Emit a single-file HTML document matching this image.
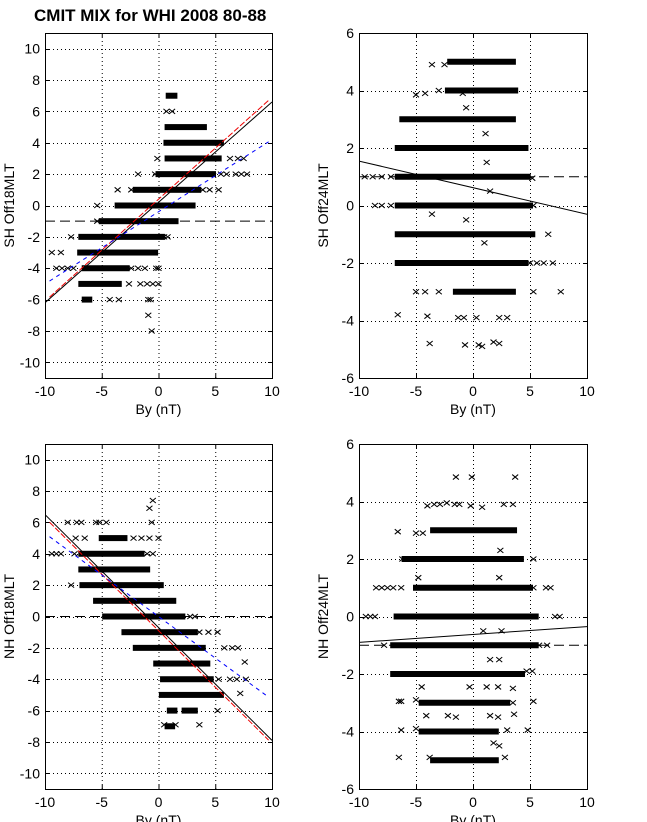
<!DOCTYPE html>
<html><head><meta charset="utf-8">
<style>
html,body{margin:0;padding:0;background:#fff;}
svg{display:block;font-family:"Liberation Sans",Arial,sans-serif;}
</style></head>
<body>
<svg id="fig" width="647" height="822" viewBox="0 0 647 822" xmlns="http://www.w3.org/2000/svg">
<rect width="647" height="822" fill="#fff"/>
<text x="34" y="21" font-size="17" font-weight="bold">CMIT MIX for WHI 2008 80-88</text>
</svg>
<script>
// ---- data ----
const xTicks = [-10, -5, 0, 5, 10];
const yTicksWide = [-10, -8, -6, -4, -2, 0, 2, 4, 6, 8, 10];
const yTicksNarrow = [-6, -4, -2, 0, 2, 4, 6];

// panel 1: SH Off18MLT  bands [y, x0, x1]
const shOff18Bands = [[7,0.9,1.4],[5,0.8,4.0],[4,0.7,5.5],[3,0.8,5.3],[2,0,4.8],[1,-2,3.5],[0,-3.6,3],[-1,-5,1.5],[-2,-6.8,0.3],[-3,-6.9,-0.3],[-4,-6.5,-2.8],[-5,-6.8,-3.5],[-6,-6.5,-6.1]];
const shOff18Points = [[0.7,6],[1.2,6],[-0.1,3],[6.3,3],[7,3],[7.5,3],[-1.8,2],[-0.3,2],[5.5,2],[6,2],[6.8,2],[7.3,2],[7.8,2],[-3.6,1],[-2.4,1],[3.9,1],[4.5,1],[5.3,1],[-5.4,0],[-5.4,-1],[-7.7,-2],[0.5,-2],[0.8,-2],[-9.4,-3],[-8.6,-3],[-9,-4],[-8.5,-4],[-8,-4],[-7.5,-4],[-2.4,-4],[-1.8,-4],[-1.2,-4],[-0.2,-4],[0,-4],[-2.6,-5],[-1.6,-5],[-1,-5],[-0.5,-5],[0,-5],[-4.3,-6],[-3.5,-6],[-0.9,-6],[-0.7,-6],[-0.9,-7],[-0.6,-8]];
const shOff18Fits = {black:[0.64,0.2], red:[0.65,0.4], blue:[0.46,-0.4]};
const shOff18Mean = -1;

// panel 2: SH Off24MLT
const shOff24Bands = [[5,-2,3.5],[4,-2.2,3.7],[3,-6.2,3.5],[2,-6.6,4.6],[1,-6.6,4.8],[0,-6.6,5],[-1,-6.6,5.2],[-2,-6.6,4.6],[-3,-1.5,3.5]];
const shOff24Points = [[-3.6,4.9],[-2.5,4.9],[-5,3.85],[-4.2,3.9],[-3,4],[-0.9,3.9],[-0.6,3.4],[1.1,2.5],[1.2,1.5],[1.5,0.5],[-9.5,1],[-8.8,1],[-8,1],[-7.2,1],[5.2,0.95],[-8.6,0],[-8,0],[-7.2,0],[5.3,0],[-3.6,-0.3],[-0.6,-0.5],[1,-1.3],[6.6,-1],[5,-2],[5.6,-2],[6.2,-2],[7,-2],[-5,-3],[-4.2,-3],[-3,-3],[5.3,-3],[7.7,-3],[-6.6,-3.8],[-4,-3.85],[-1.3,-3.9],[-0.8,-3.9],[0.3,-3.9],[2.3,-3.9],[3,-3.9],[-3.8,-4.8],[-0.7,-4.85],[0.5,-4.85],[0.8,-4.9],[1.8,-4.75],[2.3,-4.8]];
const shOff24Fits = {black:[-0.0925,0.62]};
const shOff24Mean = 1;

// panel 3: NH Off18MLT
const nhOff18Bands = [[5,-5,-3],[4,-6.8,-1.5],[3,-6.8,-1],[2,-6.7,0.2],[1,-5.5,1.3],[0,-4.7,2.1],[-1,-3,3.2],[-2,-2,3.9],[-3,-0.2,4.3],[-4,0.4,4.6],[-5,0.3,5.5],[-6,1,1.4],[-6,2.3,3.2],[-7,0.8,1.2]];
const nhOff18Points = [[-0.8,6.9],[-0.5,7.4],[-8,6],[-7.2,6],[-6.8,6],[-5.5,6],[-5.2,6],[-4.6,6],[-0.6,6],[-7.3,5],[-6.5,5],[-2.2,5],[-1.5,5],[-0.8,5],[0,5],[-9.4,4],[-9,4],[-8.6,4],[-7.4,4],[-1,4],[-0.5,4],[-7.7,2],[2.8,0],[3.2,0],[3.6,-1],[4.4,-1],[5.2,-1],[5.8,-2],[6.5,-2],[7,-2],[7.6,-2.9],[5.3,-4],[6.3,-4],[6.9,-4],[7.7,-4],[0.3,-5],[7.2,-4.9],[5.2,-6],[0.5,-6.9],[1.5,-6.9],[3.6,-6.9]];
const nhOff18Fits = {black:[-0.72,-0.7], red:[-0.72,-0.9], blue:[-0.53,0]};
const nhOff18Mean = 0;

// panel 4: NH Off24MLT
const nhOff24Bands = [[3,-3.5,3.6],[2,-6,4.2],[1,-5,5],[0,-6.7,5.5],[-1,-7,5.5],[-2,-7,4.3],[-3,-4.5,3],[-4,-4.5,2],[-5,-3.5,2]];
const nhOff24Points = [[-1.5,4.85],[-0.1,4.85],[3.7,4.85],[-4,3.85],[-3.4,3.9],[-2.9,3.9],[-2.3,3.95],[-1.6,3.9],[-1.2,3.9],[-0.2,3.85],[0.8,3.8],[2.7,3.9],[3.5,3.9],[-6.6,2.95],[-5,2.9],[-4.4,2.9],[-6.2,2],[5.3,2],[2.4,2.3],[-4.8,1.35],[2.3,1.35],[-8.5,1],[-8,1],[-7.5,1],[-7,1],[-6.3,1],[5.3,1],[6.4,1],[6.8,1],[-9.4,0],[-9,0],[-8.6,0],[7.2,0],[7.6,0],[-7.8,-1],[5.8,-1],[6.5,-1],[0.9,-0.5],[2.5,-0.5],[1.5,-1.5],[2.3,-1.5],[4.7,-1.9],[5.2,-1.9],[-4.5,-2.45],[-0.3,-2.45],[1.2,-2.45],[2.2,-2.45],[3.5,-2.5],[-6.5,-2.95],[-6.3,-2.95],[-5,-2.9],[3.5,-3],[5.3,-2.95],[-4.1,-3.45],[-2.2,-3.45],[-1.5,-3.5],[1.5,-3.45],[2.2,-3.5],[3.6,-3.4],[-6.3,-3.95],[-5,-3.9],[3,-3.95],[4.8,-3.95],[1.8,-4.4],[2.3,-4.5],[-6.5,-4.9],[-3.8,-4.9],[2.8,-4.9]];
const nhOff24Fits = {black:[0.0275,-0.625]};
const nhOff24Mean = -1;

// ---- drawing ----
const NS = 'http://www.w3.org/2000/svg';
const svg = document.getElementById('fig');
function mk(tag, attrs, parent){
  const e = document.createElementNS(NS, tag);
  for (const k in attrs) e.setAttribute(k, attrs[k]);
  (parent||svg).appendChild(e);
  return e;
}

function panel(cfg){
  const {left,right,top,bottom,ymin,ymax,yTicks,ylabel,bands,points,fits,mean,name} = cfg;
  const g = mk('g', {});
  
  
  const sx = v => left + (v + 10) / 20 * (right - left);
  const sy = v => bottom - (v - ymin) / (ymax - ymin) * (bottom - top);
  const clip = mk('clipPath', {id: 'clip-' + name}, g);
  mk('rect', {x:left, y:top, width:right-left, height:bottom-top}, clip);

  const grid = mk('g', {stroke:'#000','stroke-width':1,'stroke-dasharray':'1 3'}, g);
  
  
  xTicks.forEach(t => { if (t>-10 && t<10) mk('line', {x1:sx(t)+0.5, x2:sx(t)+0.5, y1:top, y2:bottom}, grid); });
  yTicks.forEach(t => { if (t>ymin && t<ymax) mk('line', {x1:left, x2:right, y1:Math.round(sy(t))+0.5, y2:Math.round(sy(t))+0.5}, grid); });

  const plot = mk('g', {'clip-path':'url(#clip-'+name+')'}, g);
  bands.forEach(b => {
    const r = mk('rect', {x:sx(b[1])-3, y:sy(b[0])-3, width:sx(b[2])-sx(b[1])+6, height:6, fill:'#000'}, plot);
    
    
  });
  points.forEach(p => {
    const cx = sx(p[0]), cy = sy(p[1]);
    const m = mk('path', {d:`M${cx-3},${cy-2.5}L${cx+3},${cy+2.5}M${cx-3},${cy+2.5}L${cx+3},${cy-2.5}`, stroke:'#000','stroke-width':1, fill:'none'}, plot);
    
    
  });
  const ml = mk('line', {x1:left, x2:right, y1:sy(mean), y2:sy(mean), stroke:'#000','stroke-width':1,'stroke-dasharray':'10 5'}, plot);
  
  
  const styles = {black:{c:'#000',d:''}, red:{c:'#e00',d:'6 2'}, blue:{c:'#00f',d:'4 4'}};
  Object.keys(fits).forEach(k => {
    const [m, b] = fits[k];
    const x0 = k==='black' ? -10 : -9.6, x1 = k==='black' ? 10 : 9.7;
    const l = mk('line', {x1:sx(x0), y1:sy(m*x0+b), x2:sx(x1), y2:sy(m*x1+b), stroke:styles[k].c, 'stroke-width':1, 'stroke-dasharray':styles[k].d}, plot);
    
    
  });

  const fr = mk('rect', {x:left+0.5, y:top+0.5, width:right-left, height:bottom-top, fill:'none', stroke:'#000','stroke-width':1}, g);
  
  
  xTicks.forEach(t => {
    const x = sx(t)+0.5;
    mk('line', {x1:x,x2:x,y1:bottom,y2:bottom-4,stroke:'#000'}, g);
    mk('line', {x1:x,x2:x,y1:top,y2:top+4,stroke:'#000'}, g);
    const tx = mk('text', {x:sx(t), y:bottom+18, 'font-size':14, 'text-anchor':'middle'}, g);
    tx.textContent = t;
    
    
  });
  yTicks.forEach(t => {
    const y = Math.round(sy(t))+0.5;
    mk('line', {x1:left,x2:left+4,y1:y,y2:y,stroke:'#000'}, g);
    mk('line', {x1:right,x2:right-4,y1:y,y2:y,stroke:'#000'}, g);
    const tx = mk('text', {x:left-5, y:sy(t)+5, 'font-size':14, 'text-anchor':'end'}, g);
    tx.textContent = t;
    
    
  });
  const xl = mk('text', {x:(left+right)/2, y:bottom+36, 'font-size':14, 'text-anchor':'middle'}, g);
  xl.textContent = 'By (nT)';
  
  
  const yc = (top+bottom)/2;
  const yl = mk('text', {x:left-31, y:yc, 'font-size':14, 'text-anchor':'middle', transform:`rotate(-90 ${left-31} ${yc})`}, g);
  yl.textContent = ylabel;
  
  
}

panel({name:'panel-sh-off18', left:45, right:272, top:33, bottom:378, ymin:-11, ymax:11, yTicks:yTicksWide, ylabel:'SH Off18MLT', bands:shOff18Bands, points:shOff18Points, fits:shOff18Fits, mean:shOff18Mean});
panel({name:'panel-sh-off24', left:359, right:587, top:33, bottom:378, ymin:-6, ymax:6, yTicks:yTicksNarrow, ylabel:'SH Off24MLT', bands:shOff24Bands, points:shOff24Points, fits:shOff24Fits, mean:shOff24Mean});
panel({name:'panel-nh-off18', left:45, right:272, top:444, bottom:789, ymin:-11, ymax:11, yTicks:yTicksWide, ylabel:'NH Off18MLT', bands:nhOff18Bands, points:nhOff18Points, fits:nhOff18Fits, mean:nhOff18Mean});
panel({name:'panel-nh-off24', left:359, right:587, top:444, bottom:789, ymin:-6, ymax:6, yTicks:yTicksNarrow, ylabel:'NH Off24MLT', bands:nhOff24Bands, points:nhOff24Points, fits:nhOff24Fits, mean:nhOff24Mean});
</script>
</body></html>
